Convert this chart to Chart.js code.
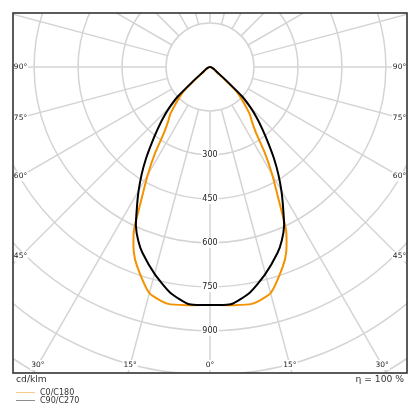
<!DOCTYPE html>
<html>
<head>
<meta charset="utf-8">
<script src="https://cdn.jsdelivr.net/npm/chart.js@4.4.0/dist/chart.umd.min.js"></script>
<style>
  html, body { margin: 0; padding: 0; background: #fff; }
</style>
</head>
<body>
<canvas id="graficoPolar" width="420" height="420"></canvas>
<script>
// angulos gamma en grados (0 = hacia abajo)
const angulos = [0, 5, 10, 15, 20, 22.5, 25, 27.5, 30, 32.5, 35, 37.5, 40, 42.5, 45, 47.5, 50, 52.5, 55, 60, 65, 70, 75, 80, 85, 90]
// intensidades cd/klm
const c0c180 = [811, 815, 820, 798, 725, 680, 614, 505, 425, 350, 273, 235, 212, 178, 150, 118, 55, 32, 22, 14, 9, 6, 4, 2, 1, 0]
const c90c270 = [811, 812, 781, 730, 674, 640, 598, 540, 487, 434, 380, 326, 279, 238, 196, 150, 75, 40, 28, 18, 12, 8, 5, 3, 1, 0]
const anillos = [150, 300, 450, 600, 750, 900, 1050, 1200, 1350]
const etiquetasAnillo = [300, 450, 600, 750, 900]
const angulosEtiqueta = [0, 15, 30, 45, 60, 75, 90]

const fuente = '"DejaVu Sans", sans-serif'

// pasa (angulo, intensidad) a x/y: izquierda C180/C270, derecha C0/C90
const puntos = (valores) => {
  let lista = []
  for (let i = angulos.length - 1; i > 0; i--) {
    let t = angulos[i] * Math.PI / 180
    lista.push({ x: -valores[i] * Math.sin(t), y: -valores[i] * Math.cos(t) })
  }
  for (let i = 0; i < angulos.length; i++) {
    let t = angulos[i] * Math.PI / 180
    lista.push({ x: valores[i] * Math.sin(t), y: -valores[i] * Math.cos(t) })
  }
  return lista
}

const etiqueta = (ctx, texto, x, y) => {
  let w = ctx.measureText(texto).width
  ctx.fillStyle = '#fff'
  ctx.fillRect(x - w / 2 - 1, y - 5, w + 2, 10)
  ctx.fillStyle = '#222'
  ctx.fillText(texto, x, y)
}

const rejilla = {
  id: 'rejilla',
  beforeDatasetsDraw(chart) {
    const { ctx, chartArea: a, scales: { x, y } } = chart
    const cx = x.getPixelForValue(0)
    const cy = y.getPixelForValue(0)
    const radio = (r) => x.getPixelForValue(r) - cx

    ctx.save()
    ctx.beginPath()
    ctx.rect(a.left, a.top, a.right - a.left, a.bottom - a.top)
    ctx.clip()
    ctx.strokeStyle = '#d4d4d4'
    ctx.lineWidth = 1.5
    anillos.forEach((r) => {
      ctx.beginPath()
      ctx.arc(cx, cy, radio(r), 0, 2 * Math.PI)
      ctx.stroke()
    })
    for (let g = 0; g < 360; g += 15) {
      let t = g * Math.PI / 180
      ctx.beginPath()
      ctx.moveTo(cx + Math.sin(t) * radio(anillos[0]), cy + Math.cos(t) * radio(anillos[0]))
      ctx.lineTo(cx + Math.sin(t) * radio(3000), cy + Math.cos(t) * radio(3000))
      ctx.stroke()
    }

    ctx.font = '8px ' + fuente
    ctx.textAlign = 'center'
    ctx.textBaseline = 'middle'
    etiquetasAnillo.forEach((r) => {
      etiqueta(ctx, String(r), cx, y.getPixelForValue(-r))
    })

    ctx.font = '7.5px ' + fuente
    angulosEtiqueta.forEach((g) => {
      let t = g * Math.PI / 180
      let lados = g === 0 ? [1] : [-1, 1]
      lados.forEach((s) => {
        let borde = s < 0 ? a.left + 7.5 : a.right - 7.5
        let px = borde
        let py = g === 0 ? Infinity : cy + Math.abs(cx - borde) * Math.cos(t) / Math.sin(t)
        if (py > a.bottom - 8) {
          py = a.bottom - 8
          px = cx + s * (py - cy) * Math.tan(t)
        }
        etiqueta(ctx, g + '°', px, py)
      })
    })
    ctx.restore()
  },
  afterDraw(chart) {
    const { ctx, chartArea: a } = chart
    ctx.save()
    ctx.strokeStyle = '#333'
    ctx.lineWidth = 1.6
    ctx.strokeRect(a.left, a.top, a.right - a.left, a.bottom - a.top)

    ctx.fillStyle = '#333'
    ctx.font = '9.2px ' + fuente
    ctx.textBaseline = 'middle'
    ctx.textAlign = 'left'
    ctx.fillText('cd/klm', 16, 380)
    ctx.textAlign = 'right'
    ctx.fillText('η = 100 %', 404, 380)

    const leyenda = [
      { texto: chart.data.datasets[1].label, color: '#f6c98c', y: 392.5 },
      { texto: chart.data.datasets[0].label, color: '#8c8c8c', y: 400.5 }
    ]
    ctx.font = '8px ' + fuente
    ctx.textAlign = 'left'
    leyenda.forEach((l) => {
      ctx.strokeStyle = l.color
      ctx.lineWidth = 1
      ctx.beginPath()
      ctx.moveTo(16, l.y)
      ctx.lineTo(35, l.y)
      ctx.stroke()
      ctx.fillStyle = '#333'
      ctx.fillText(l.texto, 40, l.y)
    })
    ctx.restore()
  }
}

const polar = document.getElementById('graficoPolar')

new Chart(polar, {
  type: 'scatter',
  data: {
    datasets: [
      {
        label: 'C90/C270',
        data: puntos(c90c270),
        showLine: true,
        borderColor: '#000',
        borderWidth: 2,
        pointRadius: 0,
        tension: 0.2,
        order: 0
      },
      {
        label: 'C0/C180',
        data: puntos(c0c180),
        showLine: true,
        borderColor: '#f39200',
        borderWidth: 2,
        pointRadius: 0,
        tension: 0.2,
        order: 1
      }
    ]
  },
  options: {
    responsive: false,
    animation: false,
    layout: { padding: { left: 13, top: 13, right: 13, bottom: 47 } },
    plugins: { legend: { display: false }, tooltip: { enabled: false } },
    scales: {
      x: { type: 'linear', min: -672, max: 672, display: false },
      y: { type: 'linear', min: -1043, max: 184, display: false }
    }
  },
  plugins: [rejilla]
})
</script>
</body>
</html>
